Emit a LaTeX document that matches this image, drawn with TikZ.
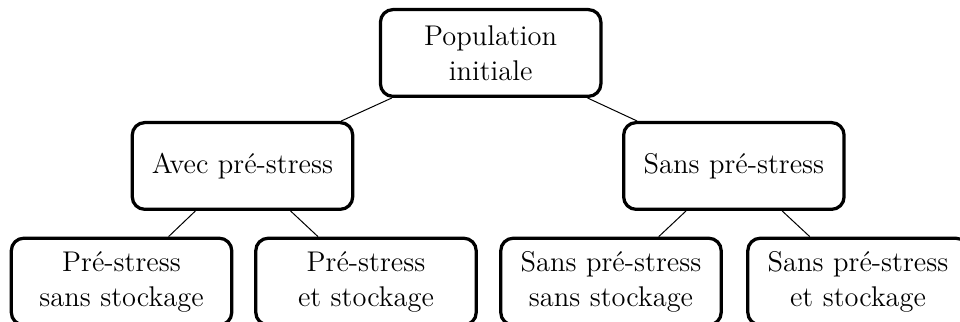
\documentclass[tikz,border=0pt]{standalone}
\usepackage{tikz}

\begin{document}
\begin{tikzpicture}[
  pbox/.style={rectangle, rounded corners=5pt, draw=black, line width=1.3pt, text width=2.9cm, align=center, minimum width=3.1cm, minimum height=1.22cm, inner sep=2pt, font=\fontsize{11.4}{14}\selectfont},
  lien/.style={draw=black, line width=0.4pt}
]
\useasboundingbox (0,0) rectangle (13.5,-4.528);

% Level 0 (racine)
\node[pbox] (pop) at (6.9,-0.745) {Population\\initiale};

% Level 1
\node[pbox] (avec) at (3.41,-2.334) {Avec pré-stress};
\node[pbox] (sans) at (10.32,-2.334) {Sans pré-stress};
\draw[lien] (pop)--(avec); \draw[lien] (pop)--(sans);

% Level 2
\node[pbox] (avecsans) at (1.709,-3.96) {Pré-stress\\sans stockage};
\node[pbox] (avecet) at (5.147,-3.96) {Pré-stress\\et stockage};
\node[pbox] (sanssans) at (8.592,-3.96) {Sans pré-stress\\sans stockage};
\node[pbox] (sanset) at (12.066,-3.96) {Sans pré-stress\\et stockage};
\draw[lien] (avec)--(avecsans); \draw[lien] (avec)--(avecet);
\draw[lien] (sans)--(sanssans); \draw[lien] (sans)--(sanset);
\end{tikzpicture}
\end{document}
